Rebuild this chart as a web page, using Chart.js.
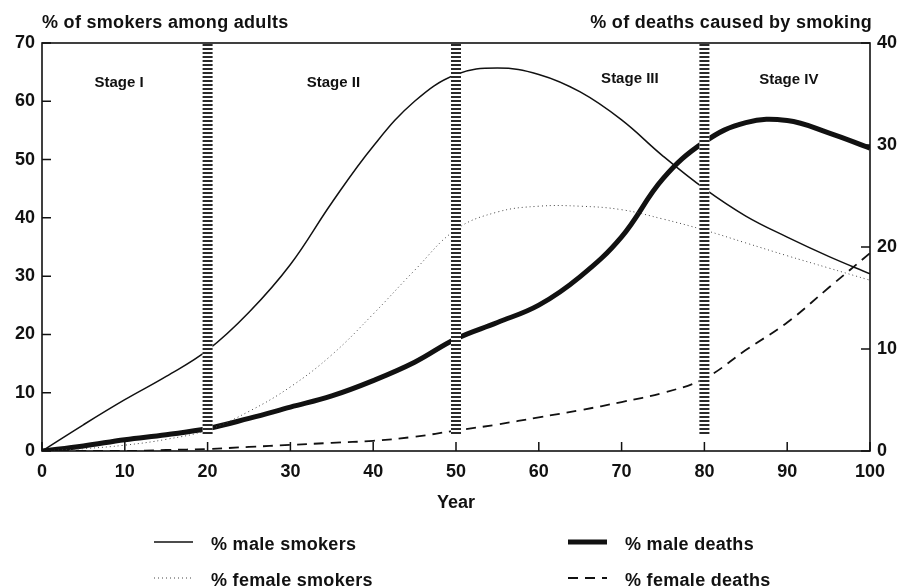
<!DOCTYPE html>
<html>
<head>
<meta charset="utf-8">
<title>Smoking epidemic stages</title>
<script src="https://cdn.jsdelivr.net/npm/chart.js@4.4.1/dist/chart.umd.min.js"></script>
<style>
  html, body { margin: 0; padding: 0; background: #fff; }
  #wrap { width: 904px; height: 588px; }
</style>
</head>
<body>
<div id="wrap"><canvas id="myChart" width="904" height="588"></canvas></div>
<script>
// Values (years on x, smokers on left axis, deaths on right axis)
var years = [0, 5, 10, 15, 20, 25, 30, 35, 40, 45, 50, 55, 60, 65, 70, 75, 80, 85, 90, 95, 100];
var maleSmokers   = [0, 4.5, 8.8, 12.8, 17.3, 23.8, 32, 42.6, 52.3, 60, 64.6, 65.7, 64.6, 61.6, 56.8, 50.6, 45, 40.3, 36.7, 33.4, 30.4];
var femaleSmokers = [0, 0.4, 1, 2, 3.6, 6.8, 11, 16.5, 23.5, 31, 38, 41, 42, 42, 41.4, 39.8, 37.9, 35.7, 33.5, 31.4, 29.3];
var maleDeaths    = [0, 0.5, 1.1, 1.6, 2.2, 3.2, 4.3, 5.4, 6.9, 8.7, 11, 12.6, 14.3, 17.1, 21, 26.7, 30.3, 32.2, 32.4, 31.2, 29.7];
var femaleDeaths  = [0, 0, 0, 0.1, 0.2, 0.4, 0.6, 0.8, 1, 1.4, 2, 2.6, 3.3, 4, 4.8, 5.7, 7.1, 9.9, 12.6, 16, 19.4];

var leftTicks = [0, 10, 20, 30, 40, 50, 60, 70];
var rightTicks = [0, 10, 20, 30, 40];
var xTicks = [0, 10, 20, 30, 40, 50, 60, 70, 80, 90, 100];

// Stage boundaries and labels
var stageBreaks = [20, 50, 80];
var stageNames = ['Stage I', 'Stage II', 'Stage III', 'Stage IV'];
var stageCenters = [9.3, 35.2, 71, 90.2];
var stageLevels = [63.1, 63.1, 63.8, 63.6]; // on the left axis

var FONT = 'Liberation Sans, Arial, sans-serif';
var INK = '#111';

function pts(xs, ys) {
    return xs.map(function (x, i) { return { x: x, y: ys[i] }; });
}

// draws frame, inward ticks, stage stripes, labels, titles and legend
var decorations = {
    id: 'decorations',
    afterDatasetsDraw: function (chart) {
        var ctx = chart.ctx;
        var a = chart.chartArea;
        var xs = chart.scales.x, ys = chart.scales.y, ys1 = chart.scales.y1;

        ctx.save();

        // hatched stage boundaries
        stageBreaks.forEach(function (b) {
            var px = xs.getPixelForValue(b);
            var bottom = ys.getPixelForValue(0) - 16;
            ctx.fillStyle = '#fff';
            ctx.fillRect(px - 5, a.top, 10, bottom - a.top);
            ctx.fillStyle = '#2a2a2a';
            for (var yy = a.top + 1; yy < bottom; yy += 4) {
                ctx.fillRect(px - 5, yy, 10, 2);
            }
        });

        // frame
        ctx.strokeStyle = INK;
        ctx.lineWidth = 1.6;
        ctx.strokeRect(a.left, a.top, a.right - a.left, a.bottom - a.top);

        // inward tick marks
        ctx.lineWidth = 1.5;
        ctx.beginPath();
        xTicks.forEach(function (t) {
            var px = xs.getPixelForValue(t);
            ctx.moveTo(px, a.bottom);
            ctx.lineTo(px, a.bottom - 9);
        });
        leftTicks.forEach(function (t) {
            var py = ys.getPixelForValue(t);
            ctx.moveTo(a.left, py);
            ctx.lineTo(a.left + 9, py);
        });
        rightTicks.forEach(function (t) {
            var py = ys1.getPixelForValue(t);
            ctx.moveTo(a.right, py);
            ctx.lineTo(a.right - 9, py);
        });
        ctx.stroke();

        // stage labels
        ctx.fillStyle = INK;
        ctx.font = 'bold 15px ' + FONT;
        ctx.textAlign = 'center';
        ctx.textBaseline = 'middle';
        stageNames.forEach(function (name, i) {
            ctx.fillText(name, xs.getPixelForValue(stageCenters[i]), ys.getPixelForValue(stageLevels[i]));
        });

        // axis titles at the top
        ctx.font = 'bold 18px ' + FONT;
        ctx.letterSpacing = '0.3px';
        ctx.textAlign = 'left';
        ctx.fillText('% of smokers among adults', a.left, 23);
        ctx.textAlign = 'right';
        ctx.fillText('% of deaths caused by smoking', a.right + 2, 23);

        // legend in two columns
        var cols = [154, 568];
        var rows = [542, 578];
        var order = [[0, 0], [0, 1], [1, 0], [1, 1]]; // [col,row] per dataset
        ctx.textAlign = 'left';
        chart.data.datasets.forEach(function (ds, i) {
            var cx = cols[order[i][0]], cy = rows[order[i][1]];
            ctx.save();
            ctx.strokeStyle = ds.borderColor;
            ctx.lineWidth = ds.borderWidth;
            ctx.setLineDash(ds.borderDash || []);
            ctx.beginPath();
            ctx.moveTo(cx, cy);
            ctx.lineTo(cx + 39, cy);
            ctx.stroke();
            ctx.restore();
            ctx.fillText(ds.label, cx + 57, cy + 3);
        });

        ctx.restore();
    }
};

var ctx = document.getElementById('myChart').getContext('2d');
var chart = new Chart(ctx, {
    type: 'line',
    data: {
        datasets: [
            {
                label: '% male smokers',
                data: pts(years, maleSmokers),
                yAxisID: 'y',
                borderColor: INK,
                borderWidth: 1.5,
                pointRadius: 0,
                tension: 0.4
            },
            {
                label: '% female smokers',
                data: pts(years, femaleSmokers),
                yAxisID: 'y',
                borderColor: '#444',
                borderWidth: 1,
                borderDash: [1, 3],
                pointRadius: 0,
                tension: 0.4
            },
            {
                label: '% male deaths',
                data: pts(years, maleDeaths),
                yAxisID: 'y1',
                borderColor: INK,
                borderWidth: 5,
                pointRadius: 0,
                tension: 0.4
            },
            {
                label: '% female deaths',
                data: pts(years, femaleDeaths),
                yAxisID: 'y1',
                borderColor: INK,
                borderWidth: 1.8,
                borderDash: [10, 7],
                pointRadius: 0,
                tension: 0.4
            }
        ]
    },
    options: {
        responsive: false,
        animation: false,
        layout: { padding: { top: 43, bottom: 69, left: 0, right: 0 } },
        plugins: {
            legend: { display: false },
            tooltip: { enabled: false }
        },
        scales: {
            x: {
                type: 'linear',
                min: 0,
                max: 100,
                grid: { display: false, drawTicks: false },
                border: { display: false },
                ticks: {
                    stepSize: 10,
                    padding: 10,
                    color: INK,
                    font: { family: FONT, size: 18, weight: 'bold' }
                },
                title: {
                    display: true,
                    text: 'Year',
                    color: INK,
                    padding: { top: 0, bottom: 5 },
                    font: { family: FONT, size: 18, weight: 'bold' }
                },
                afterFit: function (scale) { scale.height = 68; }
            },
            y: {
                position: 'left',
                min: 0,
                max: 70,
                grid: { display: false, drawTicks: false },
                border: { display: false },
                ticks: {
                    stepSize: 10,
                    padding: 7,
                    color: INK,
                    font: { family: FONT, size: 18, weight: 'bold' }
                },
                afterFit: function (scale) { scale.width = 42; }
            },
            y1: {
                position: 'right',
                min: 0,
                max: 40,
                grid: { display: false, drawTicks: false },
                border: { display: false },
                ticks: {
                    stepSize: 10,
                    padding: 7,
                    color: INK,
                    font: { family: FONT, size: 18, weight: 'bold' }
                },
                afterFit: function (scale) { scale.width = 34; }
            }
        }
    },
    plugins: [decorations]
});
</script>
</body>
</html>
